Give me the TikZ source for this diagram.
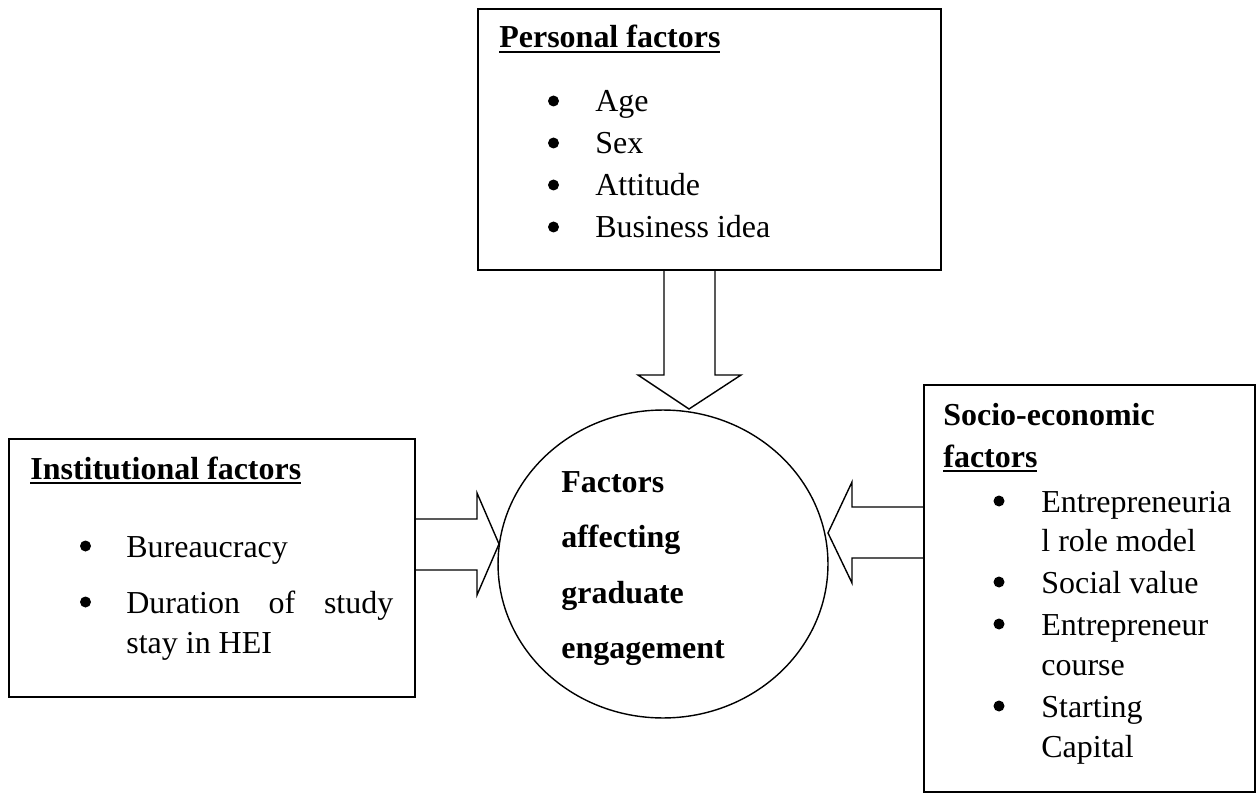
\documentclass[tikz,border=0pt]{standalone}
\usepackage{fontspec}
\setmainfont{Liberation Serif}
\usepackage{tikz}
\usetikzlibrary{shapes.geometric}
\newcommand{\ultitle}[1]{\setbox0\hbox{#1}\rlap{\rule[-2.9pt]{\wd0}{1.3pt}}\box0}
\tikzset{
  factorbox/.style={draw, line width=1.2pt, inner sep=0},
  itemtext/.style={anchor=base west, inner sep=0, font=\fontsize{18.2}{22}\selectfont},
  titletext/.style={anchor=base west, inner sep=0, font=\fontsize{18.2}{22}\selectfont\bfseries},
  blockarrow/.style={draw, line width=0.8pt, line join=miter},
}

\begin{document}
\begin{tikzpicture}[x=0.02cm, y=-0.02cm]
	\useasboundingbox (0,0) rectangle (1256,793);
	\node[factorbox, minimum width=9.26cm, minimum height=5.22cm] (personal) at (709.5,139.5) {};
	\node[factorbox, minimum width=8.12cm, minimum height=5.16cm] (institutional) at (212,568) {};
	\node[factorbox, minimum width=6.62cm, minimum height=8.14cm] (socio) at (1089.5,588.5) {};
	\node[draw, ellipse, line width=0.8pt, minimum width=6.6cm, minimum height=6.16cm, inner sep=0] (core) at (663,564) {};

	\node[titletext] (personal-title) at (499,48) {\ultitle{Personal factors}};
	\foreach \txt/\y in {Age/112, Sex/154, Attitude/196, Business idea/238}{
		\fill (553.5,\y-11) circle[radius=0.11cm];
		\node[itemtext] (personal-\y) at (595,\y) {\txt};
	}

	\node[titletext] (institutional-title) at (30,479) {\ultitle{Institutional factors}};
	\fill (85.5,546) circle[radius=0.11cm];
	\fill (85.5,602) circle[radius=0.11cm];
	\node[itemtext] (bureaucracy) at (126,557) {Bureaucracy};
	\node[itemtext] (duration) at (126,613) {\makebox[5.34cm][s]{Duration of study}};
	\node[itemtext] (stay) at (126,653) {stay in HEI};

	\node[titletext] (socio-title) at (943,425) {Socio-economic};
	\node[titletext] (socio-title2) at (943,467) {\ultitle{factors}};
	\foreach \y in {512,593,635,717}
		\fill (999,\y-11) circle[radius=0.11cm];
	\foreach \txt/\y in {Entrepreneuria/512, l role model/551, Social value/593, Entrepreneur/635, course/675, Starting/717, Capital/757}
		\node[itemtext] (socio-\y) at (1041,\y) {\txt};

	\foreach \txt/\y in {Factors/492, affecting/547, graduate/603, engagement/658}
		\node[titletext] (core-\y) at (561,\y) {\txt};

	\draw[blockarrow] (664,270) -- (664,375) -- (638,375) -- (689,409) -- (741,375) -- (715,375) -- (715,270);
	\draw[blockarrow] (415,519) -- (477,519) -- (477,493) -- (499,544) -- (477,595) -- (477,570) -- (415,570);
	\draw[blockarrow] (924,507) -- (852,507) -- (852,482) -- (828,533) -- (852,583) -- (852,558) -- (924,558);
\end{tikzpicture}
\end{document}
